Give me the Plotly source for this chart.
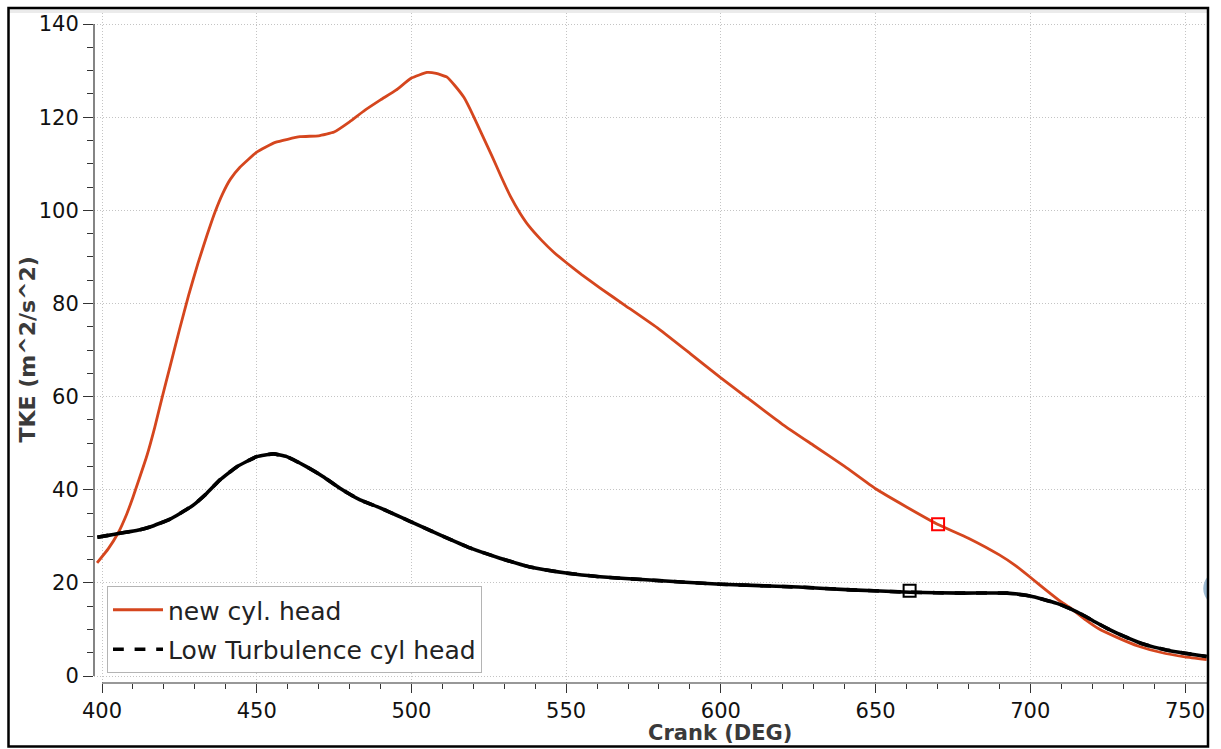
import plotly.graph_objects as go

# ---- data ----
new_head_crank = [398.4, 402, 405.2, 408, 410, 412, 414.5, 417, 419.5, 422, 425, 428, 431, 434, 436.5, 439,
                  441.5, 444.5, 450, 456, 464, 470, 475, 480, 485, 490, 495, 500, 505, 508, 511.5, 514,
                  517, 520, 523, 526, 529, 532, 535, 538, 542, 546, 550, 555, 561, 569, 580, 590, 600,
                  607, 620, 630, 640, 650, 660, 670, 680, 690, 695, 700, 705, 710, 713, 718, 722,
                  728, 735, 742, 750, 757]
new_head_tke = [24.3, 27.3, 30.7, 34.8, 38.4, 42.3, 47.3, 53.3, 60, 66.5, 74.3, 81.8, 88.6, 94.8, 99.6, 103.6,
                106.7, 109.2, 112.5, 114.6, 115.8, 116, 116.8, 119, 121.5, 123.7, 125.8, 128.4, 129.6, 129.4, 128.6, 126.8,
                124.2, 120.3, 116, 111.7, 107.2, 103, 99.5, 96.6, 93.6, 91, 88.8, 86.2, 83.3, 79.6, 74.5, 69.3, 64,
                60.5, 54, 49.5, 45, 40.2, 36.3, 32.6, 29.6, 26, 23.8, 21.2, 18.5, 15.9, 14.6, 12, 10.2,
                8.3, 6.4, 5.1, 4.1, 3.5]

low_turb_crank = [398.5, 402, 405.3, 409, 412.3, 415.5, 418.7, 422, 425.2, 429.5, 433.8, 438.1, 443.5, 450,
                  455.4, 459.7, 466.2, 471.5, 476.9, 483.4, 489.9, 499.9, 509.2, 518.9, 528.6, 538.3, 550,
                  561, 577, 600, 625, 642, 661, 678, 692.5, 700, 704, 708.6, 713, 717, 721, 725.8, 730,
                  735.5, 740, 744, 750, 757]
low_turb_tke = [29.8, 30.2, 30.6, 31, 31.4, 32, 32.8, 33.7, 34.9, 36.7, 39.2, 42.1, 44.9, 47.1,
                47.7, 47.1, 44.9, 42.8, 40.3, 37.8, 36.1, 33.1, 30.3, 27.5, 25.3, 23.4, 22.1,
                21.3, 20.6, 19.7, 19.1, 18.5, 18, 17.8, 17.8, 17.2, 16.5, 15.6, 14.4, 13.1, 11.6, 9.9, 8.6,
                7.1, 6.2, 5.6, 4.9, 4.2]

cursor_new = (670.2, 32.6)
cursor_low = (661.0, 18.3)

x_ticks = [400, 450, 500, 550, 600, 650, 700, 750]
y_ticks = [0, 20, 40, 60, 80, 100, 120, 140]

RED = "#D5461E"
FONT = "DejaVu Sans"

fig = go.Figure()
fig.add_trace(go.Scatter(x=new_head_crank, y=new_head_tke, mode="lines", name="new cyl. head",
                         line=dict(color=RED, width=2.8, shape="spline", smoothing=0.4),
                         legendgroup="a"))
# legend entry (dashed) for the low-turbulence curve
fig.add_trace(go.Scatter(x=low_turb_crank, y=low_turb_tke, mode="lines", name="Low Turbulence cyl head",
                         line=dict(color="black", width=3.6, dash="dash", shape="spline", smoothing=0.4),
                         legendgroup="b"))
# plotted curve drawn solid over it
fig.add_trace(go.Scatter(x=low_turb_crank, y=low_turb_tke, mode="lines", showlegend=False,
                         line=dict(color="black", width=3.6, shape="spline", smoothing=0.4)))
fig.add_trace(go.Scatter(x=[cursor_new[0]], y=[cursor_new[1]], mode="markers", showlegend=False,
                         marker=dict(symbol="square-open", size=12, color="#FF0000",
                                     line=dict(width=2, color="#FF0000"))))
fig.add_trace(go.Scatter(x=[cursor_low[0]], y=[cursor_low[1]], mode="markers", showlegend=False,
                         marker=dict(symbol="square-open", size=12, color="black",
                                     line=dict(width=2, color="black"))))

W, H = 1221, 749
L, R, T, B = 94, 14, 13, 66
pw, ph = W - L - R, H - T - B

def px(xp):
    return (xp - L) / pw

def py(yp):
    return (H - B - yp) / ph

GRID = dict(showgrid=True, gridcolor="#c4c4c4", griddash="1px,2px", gridwidth=1)

fig.update_layout(
    width=W, height=H,
    margin=dict(l=L, r=R, t=T, b=B, pad=0),
    paper_bgcolor="white", plot_bgcolor="white",
    font=dict(family=FONT, color="#111111"),
    showlegend=True,
    legend=dict(x=px(107), y=py(586), xanchor="left", yanchor="top",
                bgcolor="white", bordercolor="#b4b4b4", borderwidth=1,
                font=dict(family=FONT, size=25, color="#222222"),
                itemwidth=50, traceorder="grouped", tracegroupgap=4,
                entrywidth=355),
    xaxis=dict(range=[397.41, 757.11], tickvals=x_ticks, ticktext=[str(v) for v in x_ticks],
               ticks="outside", ticklen=9, tickcolor="#333", tickwidth=1,
               showline=False, zeroline=False, **GRID,
               tickfont=dict(family=FONT, size=21, color="#111111"),
               minor=dict(dtick=10, tick0=400, ticks="outside", ticklen=5, tickcolor="#333", showgrid=False)),
    yaxis=dict(range=[-1.503, 142.37], tickvals=y_ticks, ticktext=[str(v) for v in y_ticks],
               ticks="outside", ticklen=10, tickcolor="#333", tickwidth=1,
               showline=False, zeroline=False, **GRID,
               tickfont=dict(family=FONT, size=21, color="#111111"),
               minor=dict(dtick=5, tick0=0, ticks="outside", ticklen=6, tickcolor="#333", showgrid=False)),
)

shapes = []
# top grey band
shapes.append(dict(type="rect", xref="paper", yref="paper", x0=px(8), x1=px(1207), y0=py(13), y1=py(8),
                   fillcolor="#ebebeb", line=dict(width=0), layer="below"))
# axis lines
shapes.append(dict(type="line", xref="paper", yref="paper", x0=0, x1=0, y0=py(676), y1=py(24),
                   line=dict(color="#333", width=1.2)))
shapes.append(dict(type="line", xref="paper", yref="paper", x0=px(102), x1=1, y0=0, y1=0,
                   line=dict(color="#333", width=1.2)))
# partial blue circle at right edge
shapes.append(dict(type="circle", xref="x", yref="y", x0=755.9, x1=767.0, y0=15.0, y1=22.6,
                   fillcolor="#9dbbd3", line=dict(width=0), layer="above"))
# outer frame
shapes.append(dict(type="rect", xref="paper", yref="paper", x0=px(8.5), x1=px(1208), y0=py(746.5), y1=py(8),
                   line=dict(color="black", width=2.5), fillcolor="rgba(0,0,0,0)"))
fig.update_layout(shapes=shapes)

fig.add_annotation(text="Crank (DEG)", xref="paper", yref="paper", x=px(720), y=py(733),
                   xanchor="center", yanchor="middle", showarrow=False,
                   font=dict(family=FONT, size=21, color="#3a3a3a", weight="bold"))
fig.add_annotation(text="TKE (m^2/s^2)", xref="paper", yref="paper", x=px(27.5), y=py(350),
                   xanchor="center", yanchor="middle", showarrow=False, textangle=-90,
                   font=dict(family=FONT, size=22, color="#3a3a3a", weight="bold"))

fig.write_html("out.html")
